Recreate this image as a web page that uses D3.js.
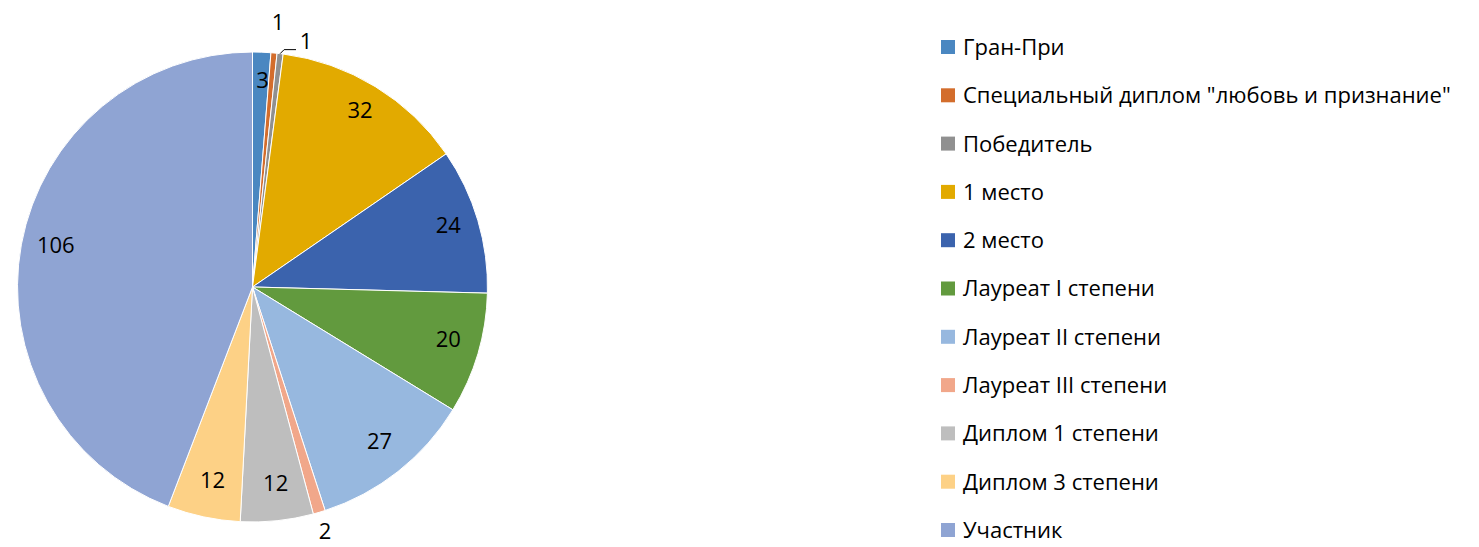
<!DOCTYPE html>
<html>
<head>
<meta charset="utf-8">
<script src="https://cdn.jsdelivr.net/npm/d3@7"></script>
<style>
  body { margin: 0; background: #fff; }
  svg { display: block; font-family: "Open Sans", "Noto Sans", sans-serif; }
</style>
</head>
<body>
<svg id="chart" width="1479" height="547"></svg>
<script>
// categories and values
const categories = [
  "Гран-При",
  "Специальный диплом \"любовь и признание\"",
  "Победитель",
  "1 место",
  "2 место",
  "Лауреат I степени",
  "Лауреат II степени",
  "Лауреат III степени",
  "Диплом 1 степени",
  "Диплом 3 степени",
  "Участник"
];
const values = [3, 1, 1, 32, 24, 20, 27, 2, 12, 12, 106];
const colors = ["#4A87C1", "#D36D2C", "#909090", "#E2AA00", "#3B63AD", "#629A3E",
                "#97B8DF", "#F1A78A", "#BEBEBE", "#FDD186", "#8FA4D3"];

const data = categories.map((c, i) => ({ name: c, value: values[i], color: colors[i] }));

const svg = d3.select("#chart");
const cx = 252.5, cy = 287, r = 235;

const pie = d3.pie().sort(null).value(d => d.value);
const arcs = pie(data);
const arc = d3.arc().innerRadius(0).outerRadius(r);
const labelArc = d3.arc().innerRadius(r * 0.86).outerRadius(r * 0.86);

const g = svg.append("g").attr("transform", `translate(${cx},${cy})`);

g.selectAll("path.slice")
  .data(arcs)
  .join("path")
    .attr("class", "slice")
    .attr("d", arc)
    .attr("fill", d => d.data.color)
    .attr("stroke", "#fff")
    .attr("stroke-width", 1);

// small slices get their labels outside the pie (like Excel does)
const outside = {
  1: { x: 278 - cx, y: 22 - cy },
  2: { x: 306 - cx, y: 41 - cy, leader: true },
  7: { x: 325 - cx, y: 531 - cy }
};

g.selectAll("text.lbl")
  .data(arcs)
  .join("text")
    .attr("class", "lbl")
    .attr("transform", (d, i) => {
      if (outside[i]) return `translate(${outside[i].x},${outside[i].y})`;
      const p = labelArc.centroid(d);
      return `translate(${p[0] + 2},${p[1] - 5})`;
    })
    .attr("text-anchor", "middle")
    .attr("dy", "0.36em")
    .attr("font-size", 22)
    .attr("fill", "#000")
    .text(d => d.data.value);

// leader line for the "Победитель" label
{
  const a = arcs[2];
  const mid = (a.startAngle + a.endAngle) / 2;
  const ex = Math.sin(mid) * r, ey = -Math.cos(mid) * r;
  const o = outside[2];
  g.append("polyline")
    .attr("points", [[ex, ey], [ex + 4, ey - 4], [o.x - 10, ey - 4]].map(p => p.join(",")).join(" "))
    .attr("fill", "none")
    .attr("stroke", "#000")
    .attr("stroke-width", 1);
}

// legend
const legendY = d3.scalePoint().domain(categories).range([47, 530]);
const legend = svg.append("g");
const row = legend.selectAll("g.row")
  .data(data)
  .join("g")
    .attr("class", "row")
    .attr("transform", d => `translate(941,${legendY(d.name)})`);

row.append("rect")
  .attr("x", 0).attr("y", -7)
  .attr("width", 14).attr("height", 14)
  .attr("fill", d => d.color);

row.append("text")
  .attr("x", 22)
  .attr("dy", "0.36em")
  .attr("font-size", 22)
  .attr("fill", "#000")
  .text(d => d.name);
</script>
</body>
</html>
